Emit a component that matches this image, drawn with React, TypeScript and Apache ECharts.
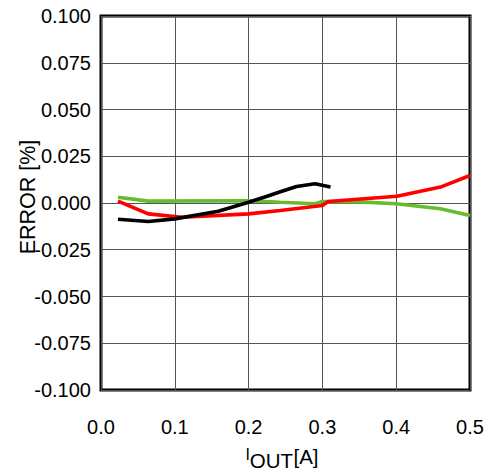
import React, { useEffect, useRef } from "react";
import * as echarts from "echarts";

const xTicks = [0, 0.1, 0.2, 0.3, 0.4, 0.5];
const yTickStep = 0.025;

const blackX = [0.023, 0.064, 0.1, 0.159, 0.2, 0.224, 0.243, 0.265, 0.29, 0.311];
const blackY = [-0.0087, -0.0099, -0.0085, -0.0044, 0.0004, 0.0035, 0.006, 0.0088, 0.0103, 0.0085];

const redX = [0.023, 0.064, 0.11, 0.2, 0.243, 0.3, 0.308, 0.401, 0.46, 0.5];
const redY = [0.001, -0.0058, -0.0076, -0.0058, -0.004, -0.0013, 0.0008, 0.0036, 0.0085, 0.0147];

const greenX = [0.023, 0.064, 0.2, 0.243, 0.29, 0.3, 0.35, 0.4, 0.46, 0.5];
const greenY = [0.0031, 0.001, 0.0012, 0.0004, -0.0004, 0.0008, 0.0006, -0.0004, -0.0031, -0.0067];

const FONT = "'Liberation Sans', Arial, sans-serif";

function pairs(xs: number[], ys: number[]) {
  return xs.map((x, i) => [x, ys[i]]);
}

export default function App() {
  const ref = useRef<HTMLDivElement>(null);
  useEffect(() => {
    if (!ref.current) return;
    const chart = echarts.init(ref.current, undefined, { renderer: "svg" });
    const lineStyle = (c: string) => ({ color: c, width: 3.6 });
    chart.setOption({
      animation: false,
      backgroundColor: "#fff",
      grid: {
        left: 101,
        top: 16,
        right: 21,
        bottom: 84,
        show: true,
        borderColor: "#000",
        borderWidth: 3,
        backgroundColor: "transparent",
      },
      xAxis: {
        type: "value",
        min: xTicks[0],
        max: xTicks[xTicks.length - 1],
        interval: 0.1,
        axisLine: { show: false },
        axisTick: { show: false },
        splitLine: { show: true, lineStyle: { color: "#555", width: 1 } },
        axisLabel: {
          color: "#000",
          fontFamily: FONT,
          fontSize: 20,
          lineHeight: 20,
          margin: 27,
          formatter: (v: number) => v.toFixed(1),
        },
      },
      yAxis: {
        type: "value",
        min: -0.1,
        max: 0.1,
        interval: yTickStep,
        axisLine: { show: false },
        axisTick: { show: false },
        splitLine: { show: true, lineStyle: { color: "#555", width: 1 } },
        axisLabel: {
          color: "#000",
          fontFamily: FONT,
          fontSize: 20,
          margin: 10,
          formatter: (v: number) => v.toFixed(3),
        },
      },
      graphic: [
        {
          type: "text",
          x: 28.4,
          y: 197,
          rotation: Math.PI / 2,
          style: {
            text: "ERROR [%]",
            fontFamily: FONT,
            fontSize: 21.5,
            fill: "#000",
            align: "center",
            verticalAlign: "middle",
          },
        },
        {
          type: "text",
          x: 245.5,
          y: 454.5,
          style: { text: "I", fontFamily: FONT, fontSize: 16, fill: "#000", align: "left", verticalAlign: "middle" },
        },
        {
          type: "text",
          x: 249.8,
          y: 460,
          style: { text: "OUT", fontFamily: FONT, fontSize: 20.5, fill: "#000", align: "left", verticalAlign: "middle" },
        },
        {
          type: "text",
          x: 293.5,
          y: 456,
          style: { text: "[A]", fontFamily: FONT, fontSize: 20.5, fill: "#000", align: "left", verticalAlign: "middle" },
        },
      ],
      series: [
        {
          type: "line",
          data: pairs(greenX, greenY),
          showSymbol: false,
          lineStyle: lineStyle("#66bb2e"),
          z: 2,
        },
        {
          type: "line",
          data: pairs(redX, redY),
          showSymbol: false,
          lineStyle: lineStyle("#ff0000"),
          z: 3,
        },
        {
          type: "line",
          data: pairs(blackX, blackY),
          showSymbol: false,
          lineStyle: lineStyle("#000000"),
          z: 4,
        },
      ],
    });
    return () => chart.dispose();
  }, []);
  return <div ref={ref} style={{ width: 491, height: 474, position: "absolute", left: 0, top: 0 }} />;
}
